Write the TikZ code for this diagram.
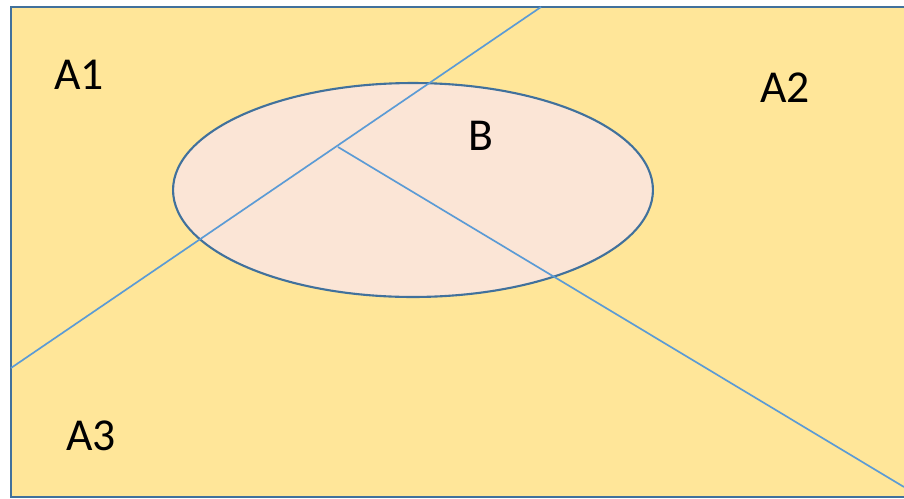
\documentclass[tikz,border=0pt]{standalone}
\usepackage{fontspec}
\setmainfont{Carlito}
\usepackage{xcolor}
\usetikzlibrary{shapes.geometric}

\definecolor{areaYellow}{HTML}{FFE699}
\definecolor{setPink}{HTML}{FBE5D6}
\definecolor{edgeBlue}{HTML}{41719C}
\definecolor{cutBlue}{HTML}{5B9BD5}

\begin{document}
\begin{tikzpicture}[
  x=0.02cm, y=-0.02cm,
  region/.style={fill=areaYellow, draw=edgeBlue, line width=1.2pt},
  setB/.style={ellipse, fill=setPink, draw=edgeBlue, line width=1.2pt, inner sep=0pt, minimum width=9.6cm, minimum height=4.28cm},
  cut/.style={draw=cutBlue, line width=0.95pt},
  tag/.style={font=\fontsize{26}{31}\selectfont, inner sep=0pt},
]
\useasboundingbox (0,0) rectangle (904,498);

% sample space
\draw[region] (11,7) rectangle (915,497);

% the event B
\node[setB] (ellB) at (413,190) {};

% partition lines
\coordinate (topEnd) at (541,7);
\coordinate (leftEnd) at (11,368);
\coordinate (knot) at (338,147);
\coordinate (rightEnd) at (904,487);
\draw[cut] (topEnd) -- (leftEnd);
\draw[cut] (knot) -- (rightEnd);

% labels
\node[tag] (a1) at (79,75) {A1};
\node[tag] (a2) at (785,88) {A2};
\node[tag] (a3) at (91,436) {A3};
\node[tag] (b) at (481,136) {B};

\end{tikzpicture}
\end{document}
